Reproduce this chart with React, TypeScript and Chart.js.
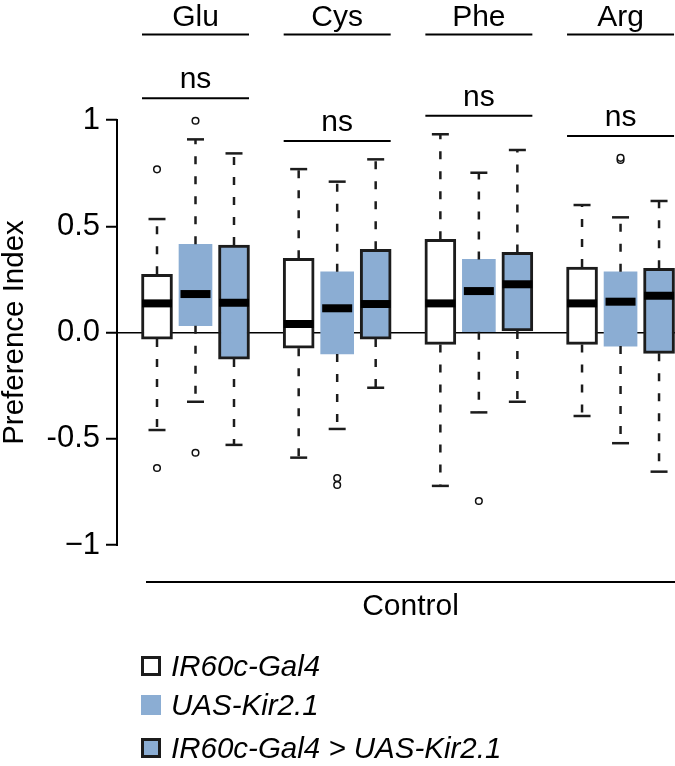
import React, { useEffect, useRef } from 'react';
import { Chart, registerables } from 'chart.js';

Chart.register(...registerables);

// ---------- data ----------
const groups = ['Glu', 'Cys', 'Phe', 'Arg'];
const seriesNames = ['IR60c-Gal4', 'UAS-Kir2.1', 'IR60c-Gal4 > UAS-Kir2.1'];

// one row per series, one value per group
const lowerWhisker = [
  [-0.459, -0.589, -0.722, -0.393],
  [-0.326, -0.454, -0.376, -0.521],
  [-0.529, -0.26, -0.326, -0.655],
];
const lowerQuartile = [
  [-0.031, -0.074, -0.056, -0.056],
  [0.032, -0.101, 0.004, -0.064],
  [-0.125, -0.031, 0.007, -0.098],
];
const medians = [
  [0.137, 0.04, 0.137, 0.137],
  [0.181, 0.114, 0.195, 0.145],
  [0.14, 0.134, 0.227, 0.173],
];
const upperQuartile = [
  [0.274, 0.349, 0.439, 0.308],
  [0.415, 0.286, 0.344, 0.286],
  [0.412, 0.392, 0.377, 0.302],
];
const upperWhisker = [
  [0.534, 0.769, 0.933, 0.6],
  [0.909, 0.71, 0.752, 0.542],
  [0.843, 0.815, 0.859, 0.619],
];

const outlierSeries = [0, 0, 1, 1, 1, 1, 1, 1, 1];
const outlierGroup = [0, 0, 0, 0, 1, 1, 2, 3, 3];
const outlierValue = [0.768, -0.638, 0.997, -0.566, -0.685, -0.718, -0.793, 0.812, 0.822];

const sigLabels = ['ns', 'ns', 'ns', 'ns'];
const sigLevels = [1.102, 0.901, 1.02, 0.925];
const groupLabelLevel = 1.403;
const controlLabel = 'Control';
const controlLevel = -1.174;

const yTickValues = [-1, -0.5, 0, 0.5, 1];
const yTickLabels = ['\u22121', '-0.5', '0.0', '0.5', '1'];
const yTitle = 'Preference Index';

// ---------- layout / style ----------
const FONT = '"Liberation Sans", Arial, Helvetica, sans-serif';
const BLUE = 'rgb(139,173,211)';
const EDGE = '#1c1c1c';
const GROUP_STEP = 3.68;
const X_MIN = -0.039;
const X_MAX = 14.4545;
const Y_MIN = -1.565;
const Y_MAX = 1.565;
const AXIS_WIDTH = 117;
const BOX_W = [31, 33, 31];
const FILLS = ['#ffffff', BLUE, BLUE];
const BORDERS = [3, 0, 3];

const pos = (g: number, s: number) => 1 + g * GROUP_STEP + s;

const boxPlugin = {
  id: 'boxExtras',
  afterDatasetsDraw(chart: any) {
    const { ctx } = chart;
    const xs = chart.scales.x;
    const ys = chart.scales.y;
    const line = (x1: number, y1: number, x2: number, y2: number) => {
      ctx.beginPath();
      ctx.moveTo(x1, y1);
      ctx.lineTo(x2, y2);
      ctx.stroke();
    };
    ctx.save();
    ctx.lineCap = 'butt';
    for (let s = 0; s < 3; s++) {
      for (let g = 0; g < groups.length; g++) {
        const cx = xs.getPixelForValue(pos(g, s));
        const yLo = ys.getPixelForValue(lowerWhisker[s][g]);
        const yQ1 = ys.getPixelForValue(lowerQuartile[s][g]);
        const yMed = ys.getPixelForValue(medians[s][g]);
        const yQ3 = ys.getPixelForValue(upperQuartile[s][g]);
        const yHi = ys.getPixelForValue(upperWhisker[s][g]);
        ctx.strokeStyle = EDGE;
        ctx.lineWidth = 2.5;
        ctx.setLineDash([8, 12]);
        line(cx, yQ3, cx, yHi);
        line(cx, yQ1, cx, yLo);
        ctx.setLineDash([]);
        line(cx - 8.5, yHi, cx + 8.5, yHi);
        line(cx - 8.5, yLo, cx + 8.5, yLo);
        ctx.strokeStyle = '#000';
        ctx.lineWidth = 8;
        line(cx - 15, yMed, cx + 15, yMed);
      }
    }
    ctx.restore();
  },
  afterDraw(chart: any) {
    const { ctx, chartArea } = chart;
    const xs = chart.scales.x;
    const ys = chart.scales.y;
    const line = (x1: number, y1: number, x2: number, y2: number) => {
      ctx.beginPath();
      ctx.moveTo(x1, y1);
      ctx.lineTo(x2, y2);
      ctx.stroke();
    };
    ctx.save();
    // y axis line from -1 to 1
    ctx.strokeStyle = '#000';
    ctx.lineWidth = 2;
    line(chartArea.left, ys.getPixelForValue(yTickValues[0]) + 1, chartArea.left, ys.getPixelForValue(yTickValues[yTickValues.length - 1]) - 1);

    // group labels and significance bars
    ctx.fillStyle = '#000';
    ctx.textAlign = 'center';
    ctx.textBaseline = 'alphabetic';
    ctx.font = `30px ${FONT}`;
    for (let g = 0; g < groups.length; g++) {
      const x1 = xs.getPixelForValue(pos(g, 0)) - 15;
      const x2 = Math.min(xs.getPixelForValue(pos(g, 2)) + 15, chartArea.right);
      const xc = xs.getPixelForValue(pos(g, 1));
      const yG = ys.getPixelForValue(groupLabelLevel);
      const yS = ys.getPixelForValue(sigLevels[g]);
      ctx.lineWidth = 2;
      line(x1, yG, x2, yG);
      line(x1, yS, x2, yS);
      ctx.fillText(groups[g], xc, yG - 8);
      ctx.fillText(sigLabels[g], xc, yS - 10);
    }

    // control bar
    const cx1 = xs.getPixelForValue(pos(0, 0)) - 11;
    const cx2 = chartArea.right;
    const cy = ys.getPixelForValue(controlLevel);
    line(cx1, cy, cx2, cy);
    ctx.fillText(controlLabel, (cx1 + cx2) / 2, cy + 33);

    // legend
    const rowCenters = [666, 705, 748];
    ctx.textAlign = 'left';
    ctx.font = `italic 29.5px ${FONT}`;
    for (let s = 0; s < seriesNames.length; s++) {
      const yc = rowCenters[s];
      ctx.fillStyle = FILLS[s];
      ctx.fillRect(141, yc - 10, 20, 20);
      if (BORDERS[s] > 0) {
        ctx.strokeStyle = EDGE;
        ctx.lineWidth = 3;
        ctx.strokeRect(142.5, yc - 8.5, 17, 17);
      }
      ctx.fillStyle = '#000';
      ctx.fillText(seriesNames[s], 171, yc + 10);
    }
    ctx.restore();
  },
};

export default function App() {
  const canvasRef = useRef<HTMLCanvasElement | null>(null);

  useEffect(() => {
    document.body.style.margin = '0';
    const canvas = canvasRef.current;
    if (!canvas) return;

    const barSets = seriesNames.map((name, s) => ({
      type: 'bar' as const,
      label: name,
      data: groups.map((_, g) => ({ x: pos(g, s), y: [lowerQuartile[s][g], upperQuartile[s][g]] })),
      backgroundColor: FILLS[s],
      borderColor: EDGE,
      borderWidth: BORDERS[s],
      borderSkipped: false,
      barThickness: BOX_W[s],
      grouped: false,
      order: 2,
    }));

    const outlierSet = {
      type: 'scatter' as const,
      label: 'outliers',
      data: outlierValue.map((v, i) => ({ x: pos(outlierGroup[i], outlierSeries[i]), y: v })),
      pointRadius: 3.3,
      pointStyle: 'circle',
      backgroundColor: '#ffffff',
      borderColor: '#111',
      borderWidth: 1.5,
      order: 1,
    };

    const chart = new Chart(canvas, {
      type: 'bar',
      data: { datasets: [...barSets, outlierSet] as any },
      plugins: [boxPlugin],
      options: {
        animation: false,
        responsive: true,
        maintainAspectRatio: false,
        layout: { autoPadding: false, padding: { left: 0, right: 0, top: 0, bottom: 101 } },
        plugins: { legend: { display: false }, tooltip: { enabled: false } },
        scales: {
          x: { type: 'linear', min: X_MIN, max: X_MAX, display: false, offset: false },
          y: {
            type: 'linear',
            position: 'left',
            min: Y_MIN,
            max: Y_MAX,
            z: 1,
            afterBuildTicks: (scale: any) => {
              scale.ticks = yTickValues.map((v) => ({ value: v }));
            },
            afterFit: (scale: any) => {
              scale.width = AXIS_WIDTH;
              scale.paddingTop = 0;
              scale.paddingBottom = 0;
            },
            border: { display: false },
            grid: {
              drawOnChartArea: true,
              drawTicks: true,
              tickLength: 11,
              color: (c: any) => (c.tick && c.tick.value === 0 ? '#000' : 'rgba(0,0,0,0)'),
              tickColor: '#000',
              lineWidth: 1.5,
              tickWidth: 2,
            },
            ticks: {
              padding: 6,
              color: '#000',
              font: { family: FONT, size: 31 },
              callback: (_v: any, i: number) => yTickLabels[i],
            },
            title: {
              display: true,
              text: yTitle,
              color: '#000',
              font: { family: FONT, size: 29.5, lineHeight: 1.0 },
              padding: 0,
            },
          },
        },
      } as any,
    });
    return () => chart.destroy();
  }, []);

  return (
    <div style={{ position: 'relative', width: 675, height: 766 }}>
      <canvas ref={canvasRef} />
    </div>
  );
}
